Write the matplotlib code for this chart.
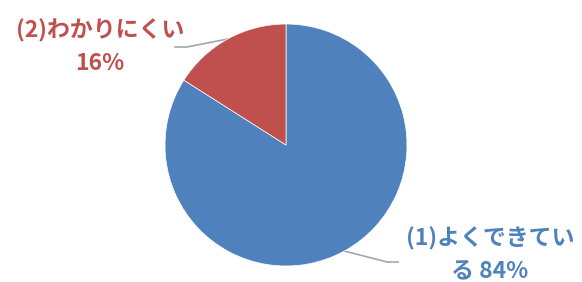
import numpy as np
import matplotlib
matplotlib.use('Agg')
import matplotlib.pyplot as plt

plt.rcParams['font.family'] = ['Noto Sans CJK JP', 'DejaVu Sans']

labels = ['(1)よくできてい\nる 84%', '(2)わかりにくい\n16%']
values = [84, 16]
colors = ['#4F81BD', '#C0504D']

fig = plt.figure(figsize=(5.82, 2.82), dpi=100)
ax = fig.add_axes([165/582, 16/282, 242/582, 242/282])

wedges, _ = ax.pie(values, colors=colors, startangle=90, counterclock=False,
                   radius=1, wedgeprops=dict(linewidth=0.5, edgecolor='white'))
ax.set_xlim(-1, 1)
ax.set_ylim(-1, 1)
ax.set_aspect('equal')
ax.axis('off')

# 引き出し線とラベル
elbows = [(0.835, -0.967), (-0.818, 0.81)]
ends = [(0.926, -0.967), (-0.917, 0.81)]
text_pos = [(1.686, -0.91), (-1.537, 0.81)]
for w, el, en, tp, lab, c in zip(wedges, elbows, ends, text_pos, labels, colors):
    ang = np.deg2rad((w.theta1 + w.theta2) / 2)
    x0, y0 = np.cos(ang), np.sin(ang)
    ax.plot([x0, el[0], en[0]], [y0, el[1], en[1]], color='#A6A6A6',
            lw=1.2, clip_on=False, zorder=0)
    ax.text(tp[0], tp[1], lab, color=c, fontsize=16.5, fontweight='bold',
            ha='center', va='center', linespacing=1.5, clip_on=False)

fig.savefig('out.png', dpi=100)
